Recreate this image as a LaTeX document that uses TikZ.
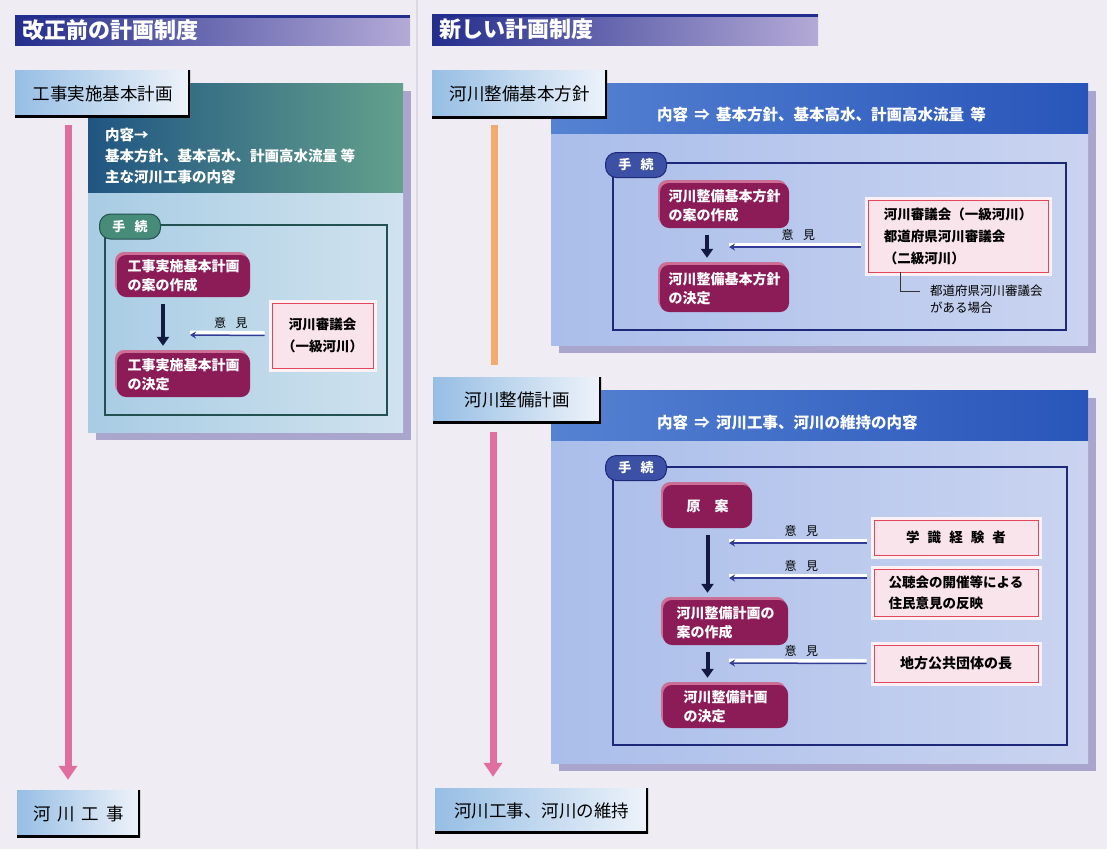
\documentclass[tikz,border=0pt]{standalone}
\usepackage{fontspec}
\setmainfont{Noto Sans CJK JP}
\usetikzlibrary{arrows.meta,shadows,positioning}

\definecolor{paper}{RGB}{239,237,243}
\definecolor{divider}{RGB}{220,217,229}
\definecolor{titledark}{RGB}{35,45,140}
\definecolor{titlelight}{RGB}{180,170,215}
\definecolor{headblue}{RGB}{150,190,228}
\definecolor{headwhite}{RGB}{238,243,250}
\definecolor{tealdark}{RGB}{32,85,130}
\definecolor{tealgreen}{RGB}{100,160,140}
\definecolor{lightLleft}{RGB}{168,204,228}
\definecolor{lightLright}{RGB}{208,226,238}
\definecolor{bandblue}{RGB}{85,130,210}
\definecolor{banddark}{RGB}{40,85,185}
\definecolor{lightRleft}{RGB}{170,190,234}
\definecolor{lightRright}{RGB}{202,212,240}
\definecolor{panelshadow}{RGB}{170,165,205}
\definecolor{frameteal}{RGB}{35,80,80}
\definecolor{framenavy}{RGB}{30,40,120}
\definecolor{tabteal}{RGB}{70,140,120}
\definecolor{tabnavy}{RGB}{60,80,165}
\definecolor{magenta1}{RGB}{140,28,88}
\definecolor{magentalight}{RGB}{205,110,150}
\definecolor{redline}{RGB}{225,70,90}
\definecolor{pinkfill}{RGB}{250,228,236}
\definecolor{pinkpale}{RGB}{252,242,246}
\definecolor{opnavy}{RGB}{50,60,150}
\definecolor{arrownavy}{RGB}{20,25,65}
\definecolor{pinkarrow}{RGB}{225,110,160}
\definecolor{orangeline}{RGB}{242,170,110}

\tikzstyle{titlebar} = [rectangle, inner xsep=7pt, inner ysep=0pt, left color=titledark, right color=titlelight, text=white, align=left, font=\fontsize{22}{24}\selectfont\bfseries, path picture={\draw[titledark, line width=5pt] (path picture bounding box.north west) -- (path picture bounding box.north east);}]
\tikzstyle{header} = [rectangle, inner sep=0pt, left color=headblue, right color=headwhite, font=\fontsize{17.5}{20}\selectfont, path picture={\draw[black, line width=5pt] (path picture bounding box.north east) -- (path picture bounding box.south east) -- (path picture bounding box.south west);}]
\tikzstyle{panel} = [rectangle, inner sep=0pt, general shadow={fill=panelshadow, shadow xshift=8pt, shadow yshift=-8pt}]
\tikzstyle{band} = [rectangle, inner sep=0pt, anchor=north west]
\tikzstyle{bandtext} = [text=white, align=left, inner sep=0pt, font=\fontsize{14.5}{21}\selectfont\bfseries]
\tikzstyle{procframe} = [rectangle, line width=1.2pt, inner sep=0pt]
\tikzstyle{proctab} = [rectangle, rounded corners=11pt, line width=1pt, text=white, inner sep=0pt, minimum width=61pt, minimum height=25pt, font=\fontsize{13}{15}\selectfont\bfseries]
\tikzstyle{procbox} = [rectangle, rounded corners=9pt, fill=magenta1, text=white, align=left, inner sep=0pt, font=\fontsize{14}{19}\selectfont\bfseries, general shadow={fill=magentalight, shadow xshift=-2pt, shadow yshift=3pt}]
\tikzstyle{bodybox} = [rectangle, draw=redline, line width=0.8pt, fill=pinkfill, inner sep=0pt, align=left, font=\fontsize{13.5}{22}\selectfont\bfseries, preaction={draw=pinkpale, line width=7pt}]
\tikzstyle{downarrow} = [draw=arrownavy, line width=4pt, -{Triangle[width=12pt, length=9pt]}, shorten <=7pt, shorten >=7pt]
\tikzstyle{opinion} = [draw=opnavy, line width=1.5pt, -{Stealth[width=7pt, length=6pt]}, shorten <=7pt, preaction={draw=white, line width=4.5pt, -, transform canvas={yshift=2.2pt}}]
\tikzstyle{opiniontext} = [above, inner sep=6pt, text=black, font=\fontsize{12}{14}\selectfont]
\tikzstyle{riverarrow} = [draw=pinkarrow, line width=7pt, -{Triangle[width=18pt, length=14pt]}]
\tikzstyle{notebracket} = [draw=black!80, line width=0.7pt, shorten >=10pt]

\begin{document}
\begin{tikzpicture}[x=1pt, y=-1pt, node distance=99pt]
	\useasboundingbox (0,0) rectangle (1107,849);
	\fill [paper] (0,0) rectangle (1107,849);
	\draw [divider, line width=1.5pt] (417,0) -- (417,849);

	% Before the revision
	\node [titlebar, text width=381pt, minimum height=30pt] (titleL) at (212.5,30) {改正前の計画制度};
	\node [panel, minimum width=315pt, minimum height=349pt, left color=lightLleft, right color=lightLright] (panelL) at (245.5,257.5) {};
	\node [band, minimum width=315pt, minimum height=109pt, left color=tealdark, right color=tealgreen] (bandL) at (panelL.north west) {};
	\node [bandtext, anchor=west] (contentL) at (105,156) {内容→\\基本方針、基本高水、計画高水流量\ 等\\主な河川工事の内容};
	\node [header, minimum width=175pt, minimum height=47pt] (headL) at (102.5,93.5) {工事実施基本計画};
	\node [procframe, draw=frameteal, minimum width=282pt, minimum height=190pt] (frameL) at (246,320) {};
	\node [proctab, draw=frameteal, fill=tabteal] (tabL) at (130,226.5) {手\hspace{0.7em}続};
	\node [procbox, minimum width=133pt, minimum height=42pt] (draftL) at (183.5,276) {工事実施基本計画\\の案の作成};
	\node [procbox, minimum width=133pt, minimum height=44pt, below of=draftL] (decideL) {工事実施基本計画\\の決定};
	\node [bodybox, align=center, minimum width=101pt, minimum height=65pt] (councilL) at (322.5,335.5) {河川審議会\\（一級河川）};
	\coordinate (inL) at (190,335);
	\draw [downarrow] ([xshift=-20.5pt]draftL.south) to ([xshift=-20.5pt]decideL.north);
	\draw [opinion] (councilL.west) to node[opiniontext] {意\hspace{0.8em}見} (inL);
	\node [header, minimum width=123pt, minimum height=47pt] (endL) at (78.5,813.5) {河\hspace{0.4em}川\hspace{0.4em}工\hspace{0.4em}事};
	\draw [riverarrow] ([xshift=-34.5pt, yshift=-8pt]headL.south) to ([xshift=-10.5pt, yshift=10pt]endL.north);

	% New system: basic policy
	\node [titlebar, text width=372pt, minimum height=31pt] (titleR) at (625,29.5) {新しい計画制度};
	\node [panel, minimum width=537pt, minimum height=262pt, left color=lightRleft, right color=lightRright] (panelR1) at (819.5,214) {};
	\node [band, minimum width=537pt, minimum height=50pt, left color=bandblue, right color=banddark] (bandR1) at (panelR1.north west) {};
	\node [bandtext, anchor=west, font=\fontsize{15.5}{20}\selectfont\bfseries] (contentR1) at (657,115) {内容\hspace{0.4em}⇒\hspace{0.4em}基本方針、基本高水、計画高水流量\hspace{0.4em}等};
	\node [header, minimum width=175pt, minimum height=48pt] (headR1) at (519.5,94) {河川整備基本方針};
	\node [procframe, draw=framenavy, minimum width=453pt, minimum height=167pt] (frameR1) at (839.5,246.5) {};
	\node [proctab, draw=framenavy, fill=tabnavy] (tabR1) at (636,165) {手\hspace{0.7em}続};
	\node [procbox, minimum width=129pt, minimum height=45pt] (draftR1) at (724.5,205.5) {河川整備基本方針\\の案の作成};
	\node [procbox, minimum width=129pt, minimum height=47pt, below of=draftR1, node distance=83pt] (decideR1) {河川整備基本方針\\の決定};
	\node [bodybox, minimum width=180pt, minimum height=72pt] (councilR) at (958,236) {河川審議会（一級河川）\\都道府県河川審議会\\（二級河川）};
	\node [anchor=west, inner sep=0pt, align=left, font=\fontsize{12.5}{17}\selectfont] (noteR) at (930,299) {都道府県河川審議会\\がある場合};
	\coordinate (inR1) at (729,247);
	\draw [downarrow] ([xshift=-17.5pt]draftR1.south) to ([xshift=-17.5pt]decideR1.north);
	\draw [opinion] ([yshift=-11pt]councilR.west) to node[opiniontext] {意\hspace{0.8em}見} (inR1);
	\draw [notebracket] ([xshift=-58pt]councilR.south) |- ([yshift=8pt]noteR.west);

	% New system: improvement plan
	\node [panel, minimum width=537pt, minimum height=373pt, left color=lightRleft, right color=lightRright] (panelR2) at (819.5,576.5) {};
	\node [band, minimum width=537pt, minimum height=50pt, left color=bandblue, right color=banddark] (bandR2) at (panelR2.north west) {};
	\node [bandtext, anchor=west, font=\fontsize{15.5}{20}\selectfont\bfseries] (contentR2) at (657,423) {内容\hspace{0.4em}⇒\hspace{0.4em}河川工事、河川の維持の内容};
	\node [header, minimum width=168pt, minimum height=46pt] (headR2) at (517,400) {河川整備計画};
	\draw [riverarrow, draw=orangeline, -] ([xshift=-25pt, yshift=-7pt]headR1.south) to ([xshift=-22.5pt, yshift=12pt]headR2.north);
	\node [procframe, draw=framenavy, minimum width=454pt, minimum height=278pt] (frameR2) at (840,606) {};
	\node [proctab, draw=framenavy, fill=tabnavy] (tabR2) at (636,468) {手\hspace{0.7em}続};
	\node [procbox, minimum width=89pt, minimum height=43pt] (origR) at (707.5,506.5) {原\hspace{1em}案};
	\node [procbox, minimum width=125pt, minimum height=45pt] (draftR2) at (725.5,622.5) {河川整備計画の\\案の作成};
	\node [procbox, minimum width=125pt, minimum height=43pt] (decideR2) at (725.5,706.5) {河川整備計画\\の決定};
	\node [bodybox, minimum width=164pt, minimum height=35pt] (expertR) at (956,537.5) {学\hspace{0.6em}識\hspace{0.6em}経\hspace{0.6em}験\hspace{0.6em}者};
	\node [bodybox, minimum width=164pt, minimum height=47pt, font=\fontsize{13.5}{21}\selectfont\bfseries] (hearingR) at (956,592.5) {公聴会の開催等による\\住民意見の反映};
	\node [bodybox, minimum width=164pt, minimum height=37pt, font=\fontsize{14}{20}\selectfont\bfseries] (mayorR) at (956,663.5) {地方公共団体の長};
	\coordinate (inR2a) at (729,543);
	\coordinate (inR2b) at (729,578);
	\coordinate (inR2c) at (729,663);
	\draw [downarrow] (origR.south) to (origR.south |- draftR2.north);
	\draw [downarrow] (draftR2.south -| origR.south) to (decideR2.north -| origR.south);
	\draw [opinion] ([yshift=-5.5pt]expertR.west) to node[opiniontext] {意\hspace{0.8em}見} (inR2a);
	\draw [opinion] ([yshift=14.5pt]hearingR.west) to node[opiniontext] {意\hspace{0.8em}見} (inR2b);
	\draw [opinion] (mayorR.west) to node[opiniontext] {意\hspace{0.8em}見} (inR2c);
	\node [header, minimum width=213pt, minimum height=45pt] (endR) at (541.5,810.5) {河川工事、河川の維持};
	\draw [riverarrow] ([xshift=-24pt, yshift=-9pt]headR2.south) to ([xshift=-48.5pt, yshift=11pt]endR.north);
\end{tikzpicture}
\end{document}
